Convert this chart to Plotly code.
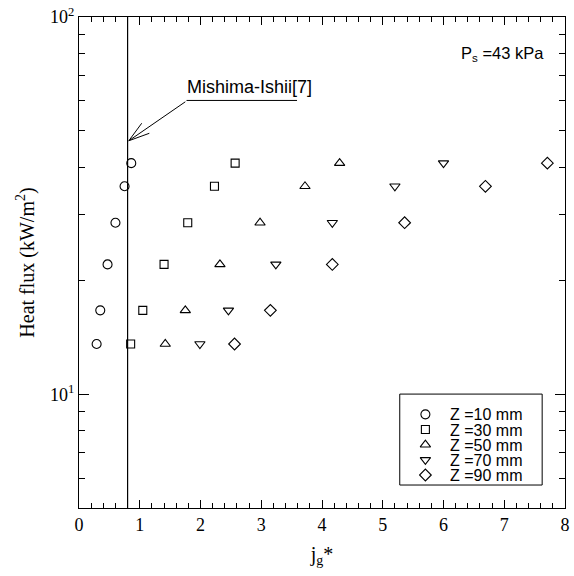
import numpy as np
import plotly.graph_objects as go

# Heat flux rows (kW/m^2), bottom to top
heat_flux = [13.6, 16.7, 22.1, 28.5, 35.6, 41.0]

jg_z10 = [0.29, 0.35, 0.47, 0.60, 0.75, 0.86]
jg_z30 = [0.85, 1.05, 1.40, 1.79, 2.23, 2.57]
jg_z50 = [1.42, 1.75, 2.32, 2.98, 3.72, 4.29]
jg_z70 = [1.99, 2.46, 3.24, 4.17, 5.20, 6.00]
jg_z90 = [2.56, 3.15, 4.17, 5.36, 6.69, 7.71]

series_names = ["Z =10 mm", "Z =30 mm", "Z =50 mm", "Z =70 mm", "Z =90 mm"]
series_x = [jg_z10, jg_z30, jg_z50, jg_z70, jg_z90]
symbols = ["circle-open", "square-open", "triangle-up-open", "triangle-down-open", "diamond-open"]
sizes = [9, 8, 9, 9, 9]

y_tick_vals = [10, 100]
y_tick_text = ["10<sup>1</sup>", "10<sup>2</sup>"]

mishima_jg = 0.8
arrow_tip_q = 47.0
y_range = [5, 100]

serif = "Liberation Serif"
sans = "Liberation Sans"

fig = go.Figure()

for name, xs, sym, sz in zip(series_names, series_x, symbols, sizes):
    fig.add_trace(go.Scatter(
        x=xs, y=heat_flux, mode="markers", name=name, showlegend=False,
        marker=dict(symbol=sym, size=sz, color="black", line=dict(width=1.1, color="black")),
    ))

# Mishima-Ishii vertical line
fig.add_trace(go.Scatter(
    x=[mishima_jg, mishima_jg], y=y_range, mode="lines",
    line=dict(color="black", width=1.2), showlegend=False, hoverinfo="skip",
))

# ---- manual legend on an overlay axis pair ----
n = len(series_names)
leg_rows = [0.777 - 0.1667 * i for i in range(n)]
for name, sym, sz, ry in zip(series_names, symbols, sizes, leg_rows):
    fig.add_trace(go.Scatter(
        x=[0.18], y=[ry], mode="markers", xaxis="x2", yaxis="y2", showlegend=False,
        hoverinfo="skip",
        marker=dict(symbol=sym, size=sz, color="black", line=dict(width=1.1, color="black")),
    ))
    fig.add_annotation(x=0.345, y=ry, xref="x2", yref="y2", text=name, showarrow=False,
                       xanchor="left", yanchor="middle", height=14, borderpad=0,
                       font=dict(family=sans, size=16, color="black"))
fig.add_shape(type="rect", xref="x2 domain", yref="y2 domain", x0=0, x1=1, y0=0, y1=1,
              line=dict(color="black", width=1), fillcolor="rgba(0,0,0,0)")

# ---- Mishima-Ishii arrow ----
ly = np.log10(arrow_tip_q)
tipx = mishima_jg + 0.02
for (ax, ay) in [(58, -40), (14, -19), (22, -8)]:
    fig.add_annotation(x=tipx, y=ly, xref="x", yref="y", ax=ax, ay=ay,
                       text="", showarrow=True, arrowhead=0, arrowwidth=1, arrowcolor="black")
fig.add_annotation(x=1.77, y=np.log10(60.1), xref="x", yref="y", ax=112, ay=0,
                   text="", showarrow=True, arrowhead=0, arrowwidth=1, arrowcolor="black",
                   standoff=0, startstandoff=0)
fig.add_annotation(x=1.77, y=np.log10(60.1), xref="x", yref="y",
                   text="Mishima-Ishii[7]", showarrow=False,
                   xanchor="left", yanchor="bottom", xshift=-2, yshift=1,
                   font=dict(family=sans, size=18, color="black"))

fig.add_annotation(x=0.958, y=0.925, xref="paper", yref="paper",
                   text="P<sub>s</sub> =43 kPa", showarrow=False,
                   xanchor="right", yanchor="middle", borderpad=0,
                   font=dict(family=sans, size=16.5, color="black"))

fig.update_layout(
    width=574, height=576,
    margin=dict(l=79, r=4, t=17, b=68),
    paper_bgcolor="white", plot_bgcolor="white",
    showlegend=False,
    xaxis=dict(range=[0, 8], dtick=1, tick0=0, ticks="inside", ticklen=8,
               tickcolor="black", showline=True, linecolor="black", linewidth=1,
               mirror="allticks", showgrid=False, zeroline=False,
               ticklabeloverflow="allow",
               tickfont=dict(family=serif, size=18, color="black"),
               title=dict(text="j<sub>g</sub>*", font=dict(family=serif, size=20, color="black"), standoff=13),
               minor=dict(dtick=0.2, ticks="inside", ticklen=5, tickcolor="black", showgrid=False)),
    yaxis=dict(type="log", range=[np.log10(y_range[0]), np.log10(y_range[1])],
               tickvals=y_tick_vals, ticktext=y_tick_text,
               ticks="inside", ticklen=10, tickcolor="black",
               showline=True, linecolor="black", linewidth=1, mirror="allticks",
               showgrid=False, zeroline=False, ticklabeloverflow="allow",
               tickfont=dict(family=serif, size=18, color="black"),
               title=dict(text="Heat flux (kW/m<sup>2</sup>)", font=dict(family=serif, size=20, color="black"), standoff=10),
               minor=dict(dtick="D1", ticks="inside", ticklen=6, tickcolor="black", showgrid=False)),
    xaxis2=dict(domain=[0.660, 0.953], range=[0, 1], visible=False, anchor="y2"),
    yaxis2=dict(domain=[0.0468, 0.232], range=[0, 1], visible=False, anchor="x2"),
)

fig.write_html("out.html")
